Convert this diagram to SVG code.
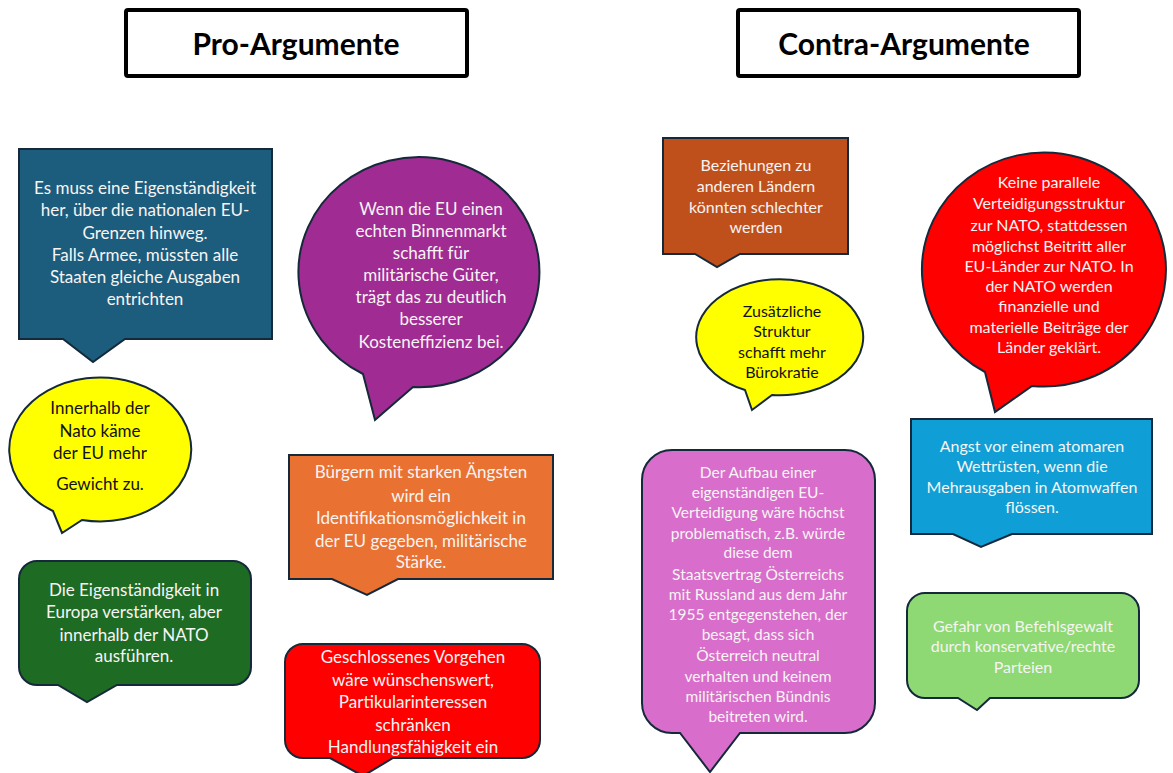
<svg xmlns="http://www.w3.org/2000/svg" width="1173" height="773" viewBox="0 0 1173 773">
<style>
.title{fill:#fff;stroke:#000;stroke-width:4}
.tt{font-family:Lato,"Liberation Sans",sans-serif;font-weight:bold;font-size:30px;fill:#000;text-anchor:middle}
.sh{stroke:#15293a;stroke-width:2;stroke-linejoin:miter}
.t{font-family:Lato,"Liberation Sans",sans-serif;font-size:17px;fill:#f7f4f4;text-anchor:middle}
.m{font-size:16px}
.s{font-size:15.5px}
.dk{fill:#111}
</style>
<rect width="1173" height="773" fill="#fff"/>
<g id="title-pro">
<rect class="title" x="126" y="10" width="341" height="66" rx="2"/>
<text class="tt" x="296" y="55">Pro-Argumente</text>
</g>
<g id="title-contra">
<rect class="title" x="738" y="10" width="341" height="66" rx="2"/>
<text class="tt" x="904" y="55">Contra-Argumente</text>
</g>
<g id="connectors"></g>
<g id="pro1">
<path class="sh" fill="#1c5c7c" d="M19,149 H272 V339 H125 L93,362 L63,339 H19 Z"/>
<text class="t"><tspan x="145" y="194">Es muss eine Eigenständigkeit</tspan><tspan x="145" y="216">her, über die nationalen EU-</tspan><tspan x="145" y="239">Grenzen hinweg.</tspan><tspan x="145" y="261">Falls Armee, müssten alle</tspan><tspan x="145" y="283">Staaten gleiche Ausgaben</tspan><tspan x="145" y="305">entrichten</tspan></text>
</g>
<g id="pro2">
<path class="sh" fill="#a02b93" d="M413,387 A120.5,115 0 1 0 363,374 L375,420 Z"/>
<text class="t"><tspan x="431" y="215">Wenn die EU einen</tspan><tspan x="431" y="237">echten Binnenmarkt</tspan><tspan x="431" y="259">schafft für</tspan><tspan x="431" y="281">militärische Güter,</tspan><tspan x="431" y="303">trägt das zu deutlich</tspan><tspan x="431" y="325">besserer</tspan><tspan x="431" y="348">Kosteneffizienz bei.</tspan></text>
</g>
<g id="pro3">
<path class="sh" fill="#ffff00" d="M82,520 A91,72 0 1 0 53,511 L62,533 Z"/>
<text class="t dk"><tspan x="100" y="414">Innerhalb der</tspan><tspan x="100" y="437">Nato käme</tspan><tspan x="100" y="459">der EU mehr</tspan><tspan x="100" y="490">Gewicht zu.</tspan></text>
</g>
<g id="pro4">
<path class="sh" fill="#1e6b24" d="M37,561 H233 A18,18 0 0 1 251,579 V667 A18,18 0 0 1 233,685 H117 L87,702 L58,685 H37 A18,18 0 0 1 19,667 V579 A18,18 0 0 1 37,561 Z"/>
<text class="t"><tspan x="134" y="596">Die Eigenständigkeit in</tspan><tspan x="134" y="618">Europa verstärken, aber</tspan><tspan x="134" y="641">innerhalb der NATO</tspan><tspan x="134" y="662">ausführen.</tspan></text>
</g>
<g id="pro5">
<path class="sh" fill="#e97132" d="M289,455 H553 V579 H398 L367,595 L332,579 H289 Z"/>
<text class="t"><tspan x="421" y="478">Bürgern mit starken Ängsten</tspan><tspan x="421" y="502">wird ein</tspan><tspan x="421" y="524">Identifikationsmöglichkeit in</tspan><tspan x="421" y="547">der EU gegeben, militärische</tspan><tspan x="421" y="568">Stärke.</tspan></text>
</g>
<g id="pro6">
<path class="sh" fill="#ff0000" d="M303,644 H522 A18,18 0 0 1 540,662 V740 A18,18 0 0 1 522,758 H393 L363,776 L330,758 H303 A18,18 0 0 1 285,740 V662 A18,18 0 0 1 303,644 Z"/>
<text class="t"><tspan x="413" y="663">Geschlossenes Vorgehen</tspan><tspan x="413" y="686">wäre wünschenswert,</tspan><tspan x="413" y="708">Partikularinteressen</tspan><tspan x="413" y="731">schränken</tspan><tspan x="413" y="753">Handlungsfähigkeit ein</tspan></text>
</g>
<g id="contra1">
<path class="sh" fill="#c0501b" d="M663,138 H848 V254 H740 L717,267 L695,254 H663 Z"/>
<text class="t m"><tspan x="756" y="171">Beziehungen zu</tspan><tspan x="756" y="192">anderen Ländern</tspan><tspan x="756" y="213">könnten schlechter</tspan><tspan x="756" y="233">werden</tspan></text>
</g>
<g id="contra2">
<path class="sh" fill="#ffff00" d="M772,395 A83.5,58 0 1 0 745,390 L752,410 Z"/>
<text class="t m dk"><tspan x="782" y="317">Zusätzliche</tspan><tspan x="782" y="337">Struktur</tspan><tspan x="782" y="358">schafft mehr</tspan><tspan x="782" y="378">Bürokratie</tspan></text>
</g>
<g id="contra3">
<path class="sh" fill="#ff0000" d="M1032,386 A122,117 0 1 0 985,372 L995,412 Z"/>
<text class="t m"><tspan x="1049" y="188">Keine parallele</tspan><tspan x="1049" y="209">Verteidigungsstruktur</tspan><tspan x="1049" y="231">zur NATO, stattdessen</tspan><tspan x="1049" y="252">möglichst Beitritt aller</tspan><tspan x="1049" y="272">EU-Länder zur NATO. In</tspan><tspan x="1049" y="292">der NATO werden</tspan><tspan x="1049" y="312">finanzielle und</tspan><tspan x="1049" y="333">materielle Beiträge der</tspan><tspan x="1049" y="353">Länder geklärt.</tspan></text>
</g>
<g id="contra4">
<path class="sh" fill="#d86dcb" d="M672,450 H845 A30,30 0 0 1 875,480 V703 A30,30 0 0 1 845,733 H740 L710,772 L680,733 H672 A30,30 0 0 1 642,703 V480 A30,30 0 0 1 672,450 Z"/>
<text class="t s"><tspan x="758" y="478">Der Aufbau einer</tspan><tspan x="758" y="498">eigenständigen EU-</tspan><tspan x="758" y="518">Verteidigung wäre höchst</tspan><tspan x="758" y="539">problematisch, z.B. würde</tspan><tspan x="758" y="558">diese dem</tspan><tspan x="758" y="580">Staatsvertrag Österreichs</tspan><tspan x="758" y="600">mit Russland aus dem Jahr</tspan><tspan x="758" y="620">1955 entgegenstehen, der</tspan><tspan x="758" y="640">besagt, dass sich</tspan><tspan x="758" y="661">Österreich neutral</tspan><tspan x="758" y="682">verhalten und keinem</tspan><tspan x="758" y="702">militärischen Bündnis</tspan><tspan x="758" y="722">beitreten wird.</tspan></text>
</g>
<g id="contra5">
<path class="sh" fill="#0f9ed5" d="M911,419 H1152 V534 H1012 L981,547 L953,534 H911 Z"/>
<text class="t m"><tspan x="1032" y="452">Angst vor einem atomaren</tspan><tspan x="1032" y="472">Wettrüsten, wenn die</tspan><tspan x="1032" y="493">Mehrausgaben in Atomwaffen</tspan><tspan x="1032" y="513">flössen.</tspan></text>
</g>
<g id="contra6">
<path class="sh" fill="#8ed973" d="M925,593 H1121 A18,18 0 0 1 1139,611 V680 A18,18 0 0 1 1121,698 H990 L977,710 L958,698 H925 A18,18 0 0 1 907,680 V611 A18,18 0 0 1 925,593 Z"/>
<text class="t m"><tspan x="1023" y="632">Gefahr von Befehlsgewalt</tspan><tspan x="1023" y="652">durch konservative/rechte</tspan><tspan x="1023" y="673">Parteien</tspan></text>
</g>
</svg>
